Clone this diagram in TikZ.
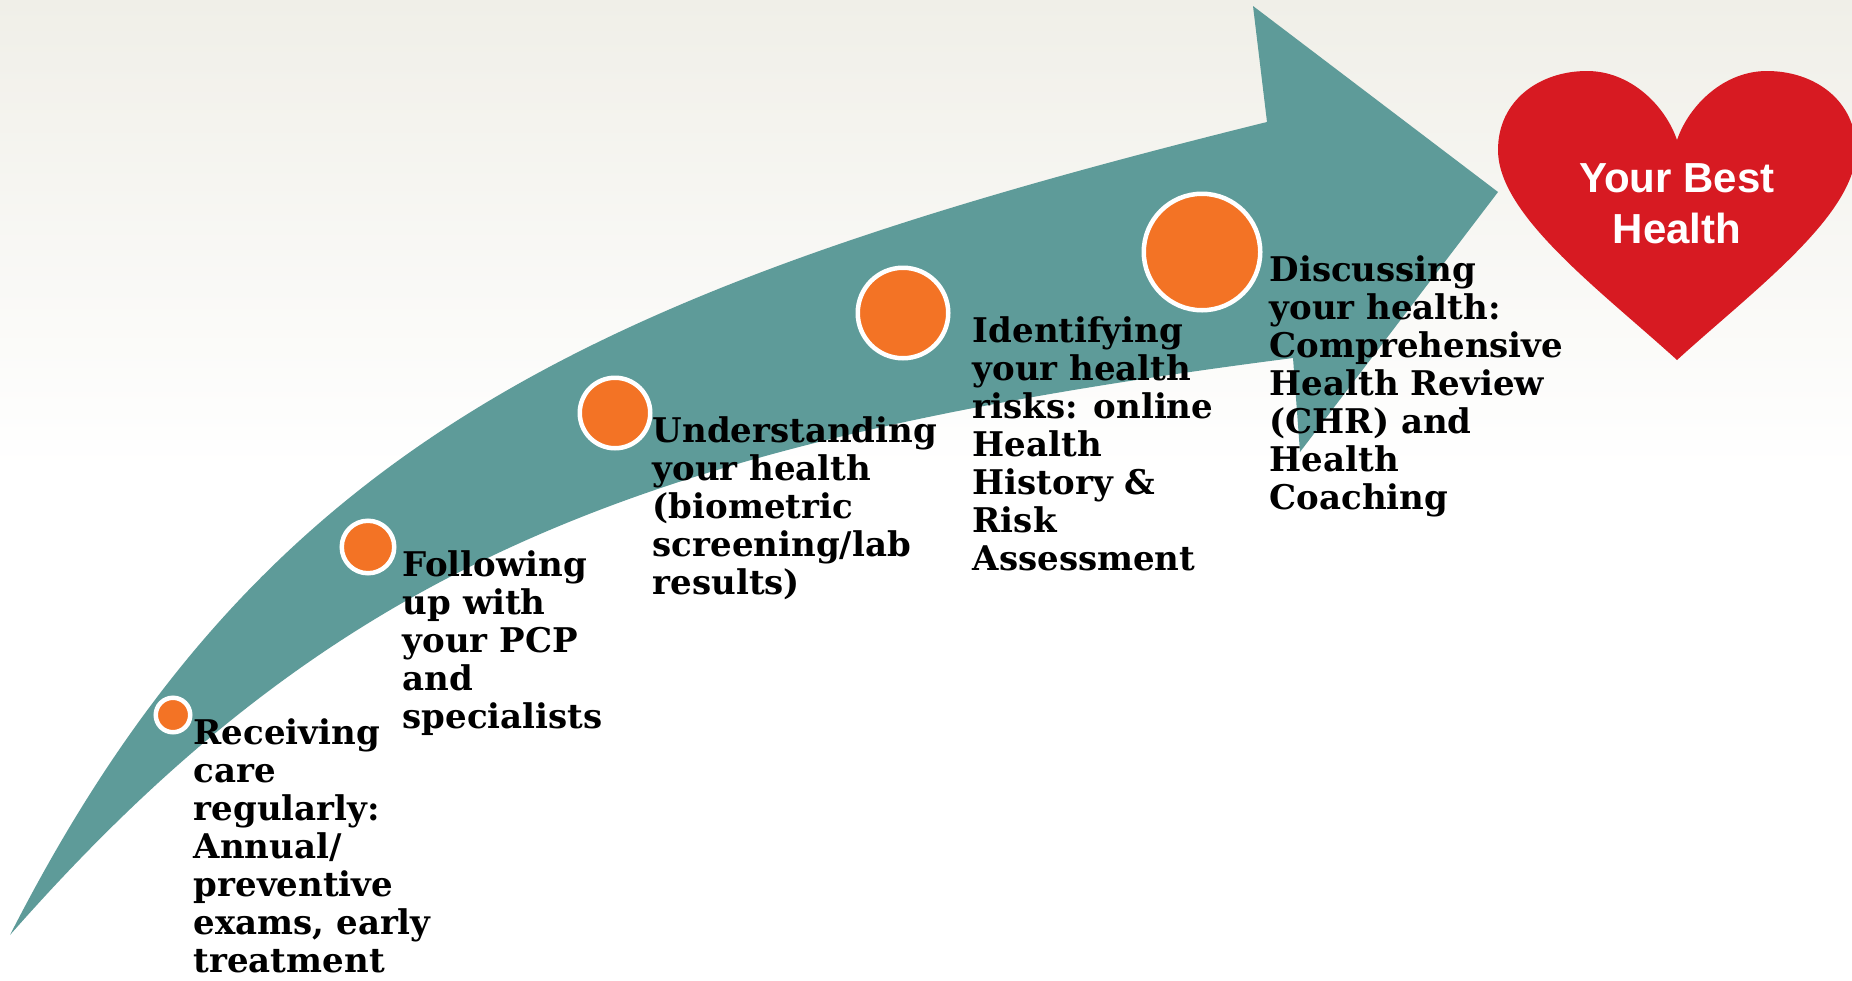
\documentclass[tikz,border=0pt]{standalone}
\usepackage{fontspec}
\setmainfont{DejaVu Serif}
\newfontfamily\heartfont{Liberation Sans}
\usetikzlibrary{positioning}

\definecolor{bgtop}{HTML}{F0EFE8}
\definecolor{arrowteal}{HTML}{5E9B99}
\definecolor{dotorange}{HTML}{F37325}
\definecolor{heartred}{HTML}{D71A22}

\begin{document}
\begin{tikzpicture}[x=1pt,y=-1pt,
	dot/.style={circle,fill=dotorange,draw=white,line width=4.5pt,inner sep=0pt},
	lbl/.style={anchor=north west,align=left,inner sep=0pt,yshift=-3.4pt,
		execute at begin node=\strut,
		font=\bfseries\fontsize{34}{38}\selectfont}]
			\useasboundingbox (0,0) rectangle (1852,980);
			\fill[white] (0,0) rectangle (1852,980);
			\fill[top color=bgtop,bottom color=white] (0,0) rectangle (1852,470);
			
			% curved arrow
			\fill[arrowteal] (10,935) .. controls (260,445) and (588,290) .. (1267,122)
				-- (1253,6) -- (1498,192) -- (1300,452) -- (1293,358)
				.. controls (648,441) and (340,560) .. (10,935) -- cycle;
			
			% heart
			\fill[heartred] (1677,360) .. controls (1600,290) and (1498,215) .. (1498,150)
				.. controls (1498,100) and (1540,71) .. (1587,71)
				.. controls (1630,71) and (1665,105) .. (1677,140)
				.. controls (1689,105) and (1724,71) .. (1767,71)
				.. controls (1814,71) and (1856,100) .. (1856,150)
				.. controls (1856,215) and (1754,290) .. (1677,360) -- cycle;
			\node[anchor=base,align=center,text=white,
				font=\heartfont\bfseries\fontsize{42}{51}\selectfont] (goal) at (1677,243) {Your Best\\Health};
			
			\node[dot,minimum size=34.5pt] (c1) at (173,715) {};
			\node[dot,minimum size=52.5pt] (c2) at (368,547) {};
			\node[dot,minimum size=70.5pt] (c3) at (615,413) {};
			\node[dot,minimum size=90.5pt] (c4) at (903,313) {};
			\node[dot,minimum size=116.5pt] (c5) at (1202,252) {};
			
			\node[lbl,xshift=1pt] (t1) at (c1.east) {Receiving\\care\\regularly:\\Annual/\\preventive\\exams, early\\treatment};
			\node[lbl,xshift=6pt] (t2) at (c2.east) {Following\\up with\\your PCP\\and\\specialists};
			\node[lbl,xshift=0pt] (t3) at (c3.east) {Understanding\\your health\\(biometric\\screening/lab\\results)};
			\node[lbl,xshift=22pt] (t4) at (c4.east) {Identifying\\your health\\risks: online\\Health\\History \&\\Risk\\Assessment};
			\node[lbl,xshift=7pt] (t5) at (c5.east) {Discussing\\your health:\\Comprehensive\\Health Review\\(CHR) and\\Health\\Coaching};
		\end{tikzpicture}
\end{document}
